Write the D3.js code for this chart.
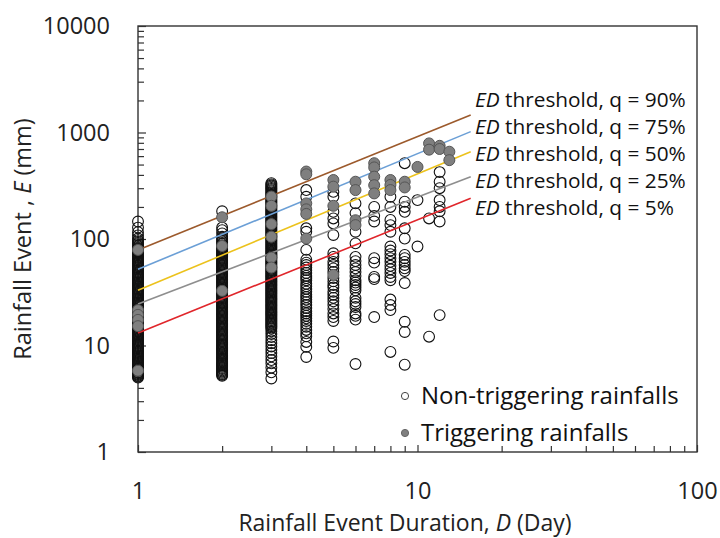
<!DOCTYPE html>
<html><head><meta charset="utf-8">
<script src="https://cdn.jsdelivr.net/npm/d3@7"></script>
<style>body{margin:0;background:#fff;} svg{display:block;font-family:"Open Sans",sans-serif;}</style>
</head><body>
<script>
// ---------- data ----------
const durations = [1,2,3,4,5,6,7,8,9,10,11,12,13];
const nonTriggeringE = [
  [5.0,5.1,5.2,5.3,5.4,5.5,5.6,5.75,5.9,6.05,6.2,6.35,6.5,6.65,6.8,6.95,7.1,7.3,7.5,7.7,7.9,8.1,8.3,8.5,8.7,8.95,9.2,9.4,9.6,9.85,10.1,10.35,10.6,10.9,11.2,11.5,11.8,12.1,12.4,12.7,13.0,13.35,13.7,14.05,14.4,14.8,15.2,15.6,16.0,16.4,16.8,17.25,17.7,18.15,18.6,19.1,19.6,20.1,20.6,21.15,21.7,22.25,22.8,23.4,24.0,24.65,25.3,25.95,26.6,27.3,28.0,28.75,29.5,30.25,31.0,31.8,32.6,33.45,34.3,35.2,36.1,37.05,38.0,39,40.0,41.05,42.1,43.2,44.3,45.45,46.6,47.8,49.0,50.3,51.6,52.95,54.3,55.7,57.1,58.6,60.1,61.6,63.2,64.8,66.5,68.2,70,72,74,76,78,80,83,85.5,88,91,94,97.5,101,108,116,128,146],
  [5.2,5.3,5.4,5.55,5.7,5.85,6.0,6.15,6.3,6.45,6.6,6.75,6.9,7.1,7.3,7.5,7.7,7.9,8.1,8.3,8.5,8.75,9.0,9.2,9.4,9.65,9.9,10.15,10.4,10.7,11.0,11.3,11.6,11.9,12.2,12.5,12.8,13.15,13.5,13.85,14.2,14.6,15.0,15.4,15.8,16.2,16.6,17.05,17.5,17.95,18.4,18.9,19.4,19.9,20.4,20.95,21.5,22.05,22.6,23.2,23.8,24.45,25.1,25.75,26.4,27.1,27.8,28.55,29.3,30.05,30.8,31.6,32.4,33.25,34.1,35,35.9,36.85,37.8,38.8,39.8,40.85,41.9,43,44.1,45.25,46.4,47.65,48.9,50.2,51.5,52.85,54.2,55.6,57.0,58.5,60.0,61.6,63.2,64.85,66.5,68.2,70,72,74,76,78,80,82,84.5,87,89.5,92,95,98,101.5,105,113,121,128,182],
  [4.9,5.6,6.2,6.8,7.3,7.9,8.5,9.1,9.8,10.5,11.2,12.0,12.8,13.6,14.4,14.8,15.2,15.6,16.0,16.45,16.9,17.35,17.8,18.3,18.8,19.3,19.8,20.3,20.8,21.35,21.9,22.5,23.1,23.7,24.3,24.95,25.6,26.3,27.0,27.7,28.4,29.15,29.9,30.7,31.5,32.3,33.1,34,34.9,35.8,36.7,37.65,38.6,39.6,40.6,41.7,42.8,43.9,45.0,46.2,47.4,48.65,49.9,51.2,52.5,53.9,55.3,56.75,58.2,59.75,61.3,62.9,64.5,66.2,67.9,69.7,71.5,73.4,75.3,77.3,79.3,81.4,83.5,85.7,87.9,90.2,92.5,95,97.4,100,103,105.5,108,111,114,117,120,123,126,129.5,133,136.5,140,143.5,147,151,155,159,163,167.5,172,176.5,181,185.5,190,195,200,205.5,211,216.5,222,228,234,240,246,252.5,259,265.5,272,279.5,287,294.5,302,310,318,326,335],
  [288,249,126,117,79,64,60,57,54,51,48,45,43,41,38,36,34,32,30,28.5,27,25.5,24,22.5,21,20,19,18,17,16,15,14,13,12.2,10.8,9.7,7.8],
  [277,249,180,156,140,109,73.5,68,61,57,53,49,43,40,37,35,32,30,28,26,24,22,20,18.5,17,10.9,9.5],
  [216,175,117,91,68,62,57,53,49,45,41,39,37,35,33,28,26,24.5,23,20,19,17.5,6.7],
  [200,165,146,66,60,44,42,18.5],
  [249,200,151,135,117,85,78,72,66,61,56,52,48,44,41,27,24,21.5,8.7],
  [515,224,200,180,126,101,71,66,61,57,53,50,38.6,16.7,13.4,6.6],
  [232,85],
  [156,12.1],
  [425,345,300,232,200,182,146,19.3],
  []
];
const triggeringE = [
  [79,21.5,19.4,17.4,15.2,5.8],
  [160,86,32.6],
  [250,205,138,105,67,54],
  [430,405,216,190,172,101],
  [358,310,205,46],
  [345,288,150,135],
  [515,470,385,320,268],
  [358,322,288],
  [345,305],
  [475],
  [790,690],
  [750,700],
  [660,550]
];
const thresholdLabels = ["90%","75%","50%","25%","5%"];
const thresholdColors = ["#9c5a2c","#6b9fd6","#ecc21c","#8e8e8e","#e0262b"];
const thresholdStartD = 1, thresholdEndD = 15.5;
const thresholdStartE = [79,52,33,24.5,13.1];
const thresholdEndE = [1460,1019,661,385,241];
const xTickLabels = [1,10,100];
const yTickLabels = [1,10,100,1000,10000];

// ---------- layout ----------
const W = 720, H = 538;
const L = 138, R = 697, T = 26, B = 452;
const svg = d3.select("body").append("svg").attr("width", W).attr("height", H);
svg.append("rect").attr("width", W).attr("height", H).attr("fill", "#fff");

const x = d3.scaleLog().domain([1,100]).range([L,R]);
const y = d3.scaleLog().domain([1,10000]).range([B,T]);

const axisColor = "#333";
function minorValues(lo, hi){
  const v=[];
  for(let p=lo; p<hi; p*=10) for(let k=2;k<=9;k++) v.push(k*p);
  return v;
}
svg.append("rect").attr("x",L).attr("y",T).attr("width",R-L).attr("height",B-T)
  .attr("fill","none").attr("stroke",axisColor).attr("stroke-width",1.4);

const gyMinor = svg.append("g").attr("transform",`translate(${L},0)`)
  .call(d3.axisRight(y).tickValues(minorValues(1,10000)).tickSize(6).tickFormat(""));
const gyMajor = svg.append("g").attr("transform",`translate(${L},0)`)
  .call(d3.axisRight(y).tickValues(yTickLabels).tickSize(8).tickFormat(""));
const gxMinor = svg.append("g").attr("transform",`translate(0,${B})`)
  .call(d3.axisTop(x).tickValues(minorValues(1,100)).tickSize(6).tickFormat(""));
const gxMajor = svg.append("g").attr("transform",`translate(0,${B})`)
  .call(d3.axisTop(x).tickValues(xTickLabels).tickSize(7).tickFormat(""));
[gyMinor,gyMajor,gxMinor,gxMajor].forEach(g=>{
  g.select(".domain").remove();
  g.selectAll("line").attr("stroke",axisColor).attr("stroke-width",1.2);
});
const gyLab = svg.append("g").attr("transform",`translate(${L},0)`)
  .call(d3.axisLeft(y).tickValues(yTickLabels).tickSize(0).tickPadding(28).tickFormat(d3.format("d")));
const gxLab = svg.append("g").attr("transform",`translate(0,${B})`)
  .call(d3.axisBottom(x).tickValues(xTickLabels).tickSize(0).tickPadding(30).tickFormat(d3.format("d")));
[gyLab,gxLab].forEach(g=>{
  g.select(".domain").remove();
  g.selectAll("text").attr("font-size",23.5).attr("fill","#222").attr("font-family","Open Sans, sans-serif");
});

// axis titles
const yt = svg.append("text").attr("transform","translate(31,239) rotate(-90)")
  .attr("text-anchor","middle").attr("font-size",23.5).attr("fill","#222");
yt.append("tspan").text("Rainfall Event , ");
yt.append("tspan").attr("font-style","italic").text("E");
yt.append("tspan").text(" (mm)");
const xt = svg.append("text").attr("x",405).attr("y",531)
  .attr("text-anchor","middle").attr("font-size",23).attr("fill","#222");
xt.append("tspan").text("Rainfall Event Duration, ");
xt.append("tspan").attr("font-style","italic").text("D");
xt.append("tspan").text(" (Day)");

// points
const plot = svg.append("g");
const nonPts = [];
durations.forEach((d,i)=> nonTriggeringE[i].forEach(e=> nonPts.push([d,e])));
const trigPts = [];
durations.forEach((d,i)=> triggeringE[i].forEach(e=> trigPts.push([d,e])));
plot.selectAll("circle.non").data(nonPts).join("circle").attr("class","non")
  .attr("cx",d=>x(d[0])).attr("cy",d=>y(d[1])).attr("r",5.4)
  .attr("fill","none").attr("stroke","#111").attr("stroke-width",1.1);

thresholdLabels.forEach((q,i)=>{
  plot.append("path")
    .attr("d", d3.line()([[x(thresholdStartD), y(thresholdStartE[i])],[x(thresholdEndD), y(thresholdEndE[i])]]))
    .attr("stroke", thresholdColors[i]).attr("stroke-width",1.6).attr("fill","none");
});

plot.selectAll("circle.trig").data(trigPts).join("circle").attr("class","trig")
  .attr("cx",d=>x(d[0])).attr("cy",d=>y(d[1])).attr("r",5.5)
  .attr("fill","#7f7f7f").attr("stroke","#555").attr("stroke-width",1);

thresholdLabels.forEach((q,i)=>{
  const t = svg.append("text").attr("x",475).attr("y",100+i*27).attr("dy","0.35em")
    .attr("font-size",20.8).attr("fill","#111");
  t.append("tspan").attr("font-style","italic").text("ED");
  t.append("tspan").text(" threshold, q = " + q);
});

const legend = [["Non-triggering rainfalls","#fff","#444"],["Triggering rainfalls","#808080","#666"]];
legend.forEach((l,i)=>{
  const cy = 396 + i*37;
  svg.append("circle").attr("cx",405).attr("cy",cy).attr("r",3.6)
    .attr("fill",l[1]).attr("stroke",l[2]).attr("stroke-width",1);
  svg.append("text").attr("x",421).attr("y",cy).attr("dy","0.35em")
    .attr("font-size",24).attr("fill","#111").text(l[0]);
});
</script>
</body></html>
